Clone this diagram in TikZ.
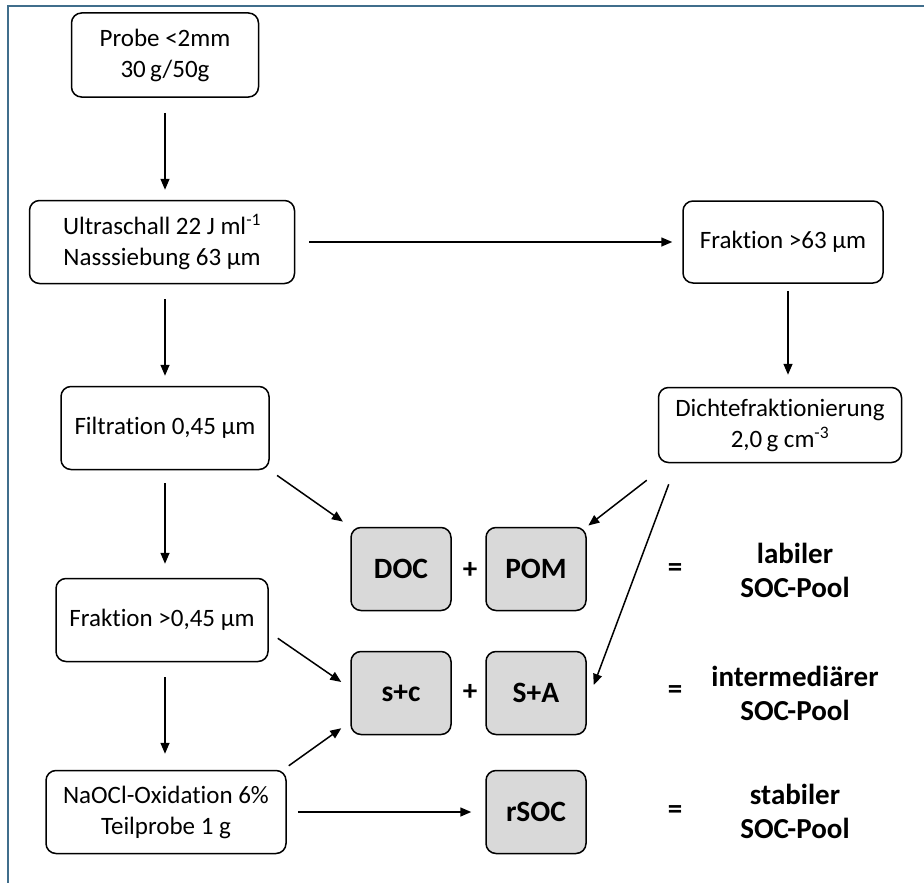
\documentclass[tikz,border=0pt]{standalone}
\usepackage{fontspec}
\setmainfont{Carlito}[Ligatures=NoCommon]
\usepackage{tikz}
\usetikzlibrary{calc}
\usetikzlibrary{positioning, arrows.meta, shapes}
\usepackage{xcolor}
\definecolor{framecol}{RGB}{64,110,140}
\definecolor{poolgray}{RGB}{217,217,217}

\begin{document}
\begin{tikzpicture}[x=1pt, y=-1pt,
  proc/.style={rectangle, rounded corners=10pt, draw=black, line width=1.5pt, fill=white, align=center, inner sep=0pt, font=\fontsize{25}{31}\selectfont},
  pool/.style={rectangle, rounded corners=10pt, draw=black, line width=1.5pt, fill=poolgray, align=center, inner sep=0pt, minimum width=100pt, minimum height=83pt, font=\fontsize{29.5}{34}\selectfont\bfseries},
  sign/.style={font=\fontsize{29}{34}\selectfont\bfseries},
  result/.style={align=center, font=\fontsize{29}{34}\selectfont\bfseries},
  arr/.style={-{Triangle[length=11pt, width=9pt]}, line width=1.5pt}]

\useasboundingbox (0,0) rectangle (924,883);

% Rahmen
\draw[framecol, line width=2pt] (8,883) -- (8,6.5) -- (924,6.5);

% Linke Spalte
\node[proc, minimum width=187pt, minimum height=84pt] (probe) at (165,55) {Probe <2mm\\30\,g/50g};
\node[proc, minimum width=265pt, minimum height=83pt] (ultra) at (162,242) {Ultraschall 22 J ml\textsuperscript{-1}\\Nasssiebung 63 µm};
\node[proc, minimum width=208pt, minimum height=83pt] (filt) at (165,428) {Filtration 0,45 µm};
\node[proc, minimum width=212pt, minimum height=83pt] (frsmall) at (162,620) {Fraktion >0,45 µm};
\node[proc, minimum width=240pt, minimum height=83pt] (naocl) at (166,812) {NaOCl-Oxidation 6\%\\Teilprobe 1 g};

% Rechte Spalte
\node[proc, minimum width=200pt, minimum height=82pt] (frlarge) at (783,242) {Fraktion >63 µm};
\node[proc, minimum width=243pt, minimum height=75pt] (dichte) at (780,425) {Dichtefraktionierung\\2,0\,g cm\textsuperscript{-3}};

% Pools
\node[pool] (doc) at (401,569) {DOC};
\node[pool] (pom) at (536,569) {POM};
\node[pool] (sc) at (401,693) {s+c};
\node[pool] (sa) at (536,693) {S+A};
\node[pool] (rsoc) at (536,812) {rSOC};

\node[sign] (plusa) at (470,570) {+};
\node[sign] (plusb) at (470,692) {+};
\node[sign] (eqa) at (675,570) {=};
\node[sign] (eqb) at (675,692) {=};
\node[sign] (eqc) at (675,812) {=};

\node[result] (labil) at (795,570) {labiler\\SOC-Pool};
\node[result] (inter) at (795,693) {intermediärer\\SOC-Pool};
\node[result] (stabil) at (795,811) {stabiler\\SOC-Pool};

% Pfeile senkrecht
\draw[arr, shorten <=15pt, shorten >=10pt] (probe.south) -- (probe.south |- ultra.north);
\draw[arr, shorten <=15pt, shorten >=10pt] (ultra.south -| probe.south) -- (filt.north);
\draw[arr, shorten <=13pt, shorten >=14pt] (filt.south) -- (filt.south |- frsmall.north);
\draw[arr, shorten <=15pt, shorten >=16pt] (frsmall.south -| filt.south) -- (filt.south |- naocl.north);
\draw[arr, shorten <=7pt, shorten >=12pt] (frlarge.south -| 788,0) -- (dichte.north -| 788,0);

% Pfeile waagrecht
\draw[arr, shorten <=14pt, shorten >=10pt] (ultra.east) -- (frlarge.west);
\draw[arr, shorten <=11pt, shorten >=14pt] (naocl.east) -- (rsoc.west);

% Pfeile schraeg
\draw[arr, shorten <=9pt, shorten >=9pt] (filt.south east) -- (doc.north west);
\draw[arr, shorten >=2pt] ($(dichte.south west)+(-11,17)$) -- (pom.north east);
\draw[arr] ($(dichte.south west)+(11,21)$) -- ($(sa.east)+(7,-8)$);
\draw[arr] ($(frsmall.south east)+(9,-24)$) -- ($(sc.west)+(-9,-11)$);
\draw[arr] ($(naocl.north east)+(2,-4)$) -- ($(sc.south west)+(-9,-7)$);

\end{tikzpicture}
\end{document}
